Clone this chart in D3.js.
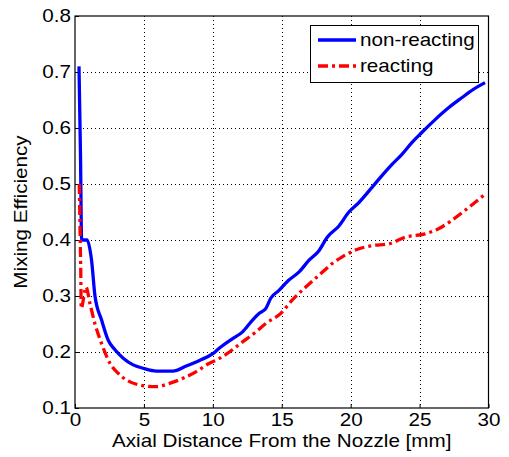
<!DOCTYPE html>
<html>
<head>
<meta charset="utf-8">
<script src="https://cdn.jsdelivr.net/npm/d3@7"></script>
<style>
  body { margin: 0; background: #fff; }
  text { font-family: "Liberation Sans", Arial, sans-serif; fill: #000; }
</style>
</head>
<body>
<div id="chart"></div>
<script>
const w = 509;
const h = 457;
const margin = {left: 75, right: 20, top: 16, bottom: 49};
const sx = 1.18; // glyphs in the reference are a bit wider than Arial

// data
const xTicks = [0, 5, 10, 15, 20, 25, 30];
const yTicks = [0.1, 0.2, 0.3, 0.4, 0.5, 0.6, 0.7, 0.8];
const seriesNames = ["non-reacting", "reacting"];

const xNonReacting = [0.29, 0.4, 0.48, 0.87, 1.2, 1.45, 1.93, 2.41, 2.9, 3.5, 4.22, 4.94, 5.9, 7.1, 8.07, 9.03, 10, 10.48, 11.44, 12.16, 12.88, 13.37, 13.85, 14.2, 14.8, 15.5, 16.26, 16.98, 17.7, 18.3, 19.15, 19.87, 20.6, 21.55, 22.27, 23, 23.72, 24.44, 25.16, 26.13, 27.1, 28.06, 28.9, 29.75];
const yNonReacting = [0.71, 0.55, 0.40, 0.40, 0.364, 0.30, 0.257, 0.221, 0.204, 0.189, 0.177, 0.171, 0.166, 0.166, 0.175, 0.185, 0.197, 0.207, 0.224, 0.236, 0.257, 0.269, 0.278, 0.296, 0.31, 0.328, 0.343, 0.364, 0.381, 0.405, 0.425, 0.45, 0.467, 0.494, 0.515, 0.535, 0.553, 0.574, 0.592, 0.615, 0.636, 0.654, 0.669, 0.681];

const xReacting = [0.31, 0.38, 0.42, 0.45, 0.8, 1.09, 1.45, 1.93, 2.53, 3.13, 3.74, 4.7, 5.9, 6.86, 7.83, 8.8, 9.75, 10.3, 11.2, 12.16, 13.13, 13.85, 14.93, 15.77, 16.74, 17.7, 18.66, 19.39, 20.35, 21.55, 22.76, 23.96, 25.4, 26.37, 27.33, 28.3, 29.75];
const yReacting = [0.50, 0.40, 0.34, 0.278, 0.316, 0.286, 0.25, 0.215, 0.18, 0.162, 0.15, 0.141, 0.138, 0.144, 0.153, 0.165, 0.18, 0.186, 0.2, 0.218, 0.236, 0.251, 0.269, 0.293, 0.316, 0.337, 0.358, 0.37, 0.382, 0.39, 0.393, 0.405, 0.411, 0.42, 0.435, 0.453, 0.482];

const colors = ["#0000ff", "#ff0000"];
const dashes = [null, "10,4,3,4"];

const svg = d3.select("#chart").append("svg")
  .attr("width", w)
  .attr("height", h);

const x = d3.scaleLinear().domain([0, 30]).range([margin.left, w - margin.right - 0.5]);
const y = d3.scaleLinear().domain([0.1, 0.8]).range([h - margin.bottom, margin.top]);

//Grid
const grid = svg.append("g").attr("class", "grid")
  .attr("stroke", "#000").attr("stroke-width", 1).attr("stroke-dasharray", "1,3");
grid.selectAll(".vx").data(xTicks.slice(1, -1)).enter().append("line")
  .attr("x1", d => Math.round(x(d)) + 0.5).attr("x2", d => Math.round(x(d)) + 0.5)
  .attr("y1", y(0.8)).attr("y2", y(0.1));
grid.selectAll(".hy").data(yTicks.slice(1, -1)).enter().append("line")
  .attr("y1", d => Math.round(y(d)) + 0.5).attr("y2", d => Math.round(y(d)) + 0.5)
  .attr("x1", x(0)).attr("x2", x(30));

//Axes
const xAxis = d3.axisBottom(x).tickValues(xTicks).tickFormat(d3.format("d"))
  .tickSizeInner(-4).tickSizeOuter(0).tickPadding(6);
const yAxis = d3.axisLeft(y).tickValues(yTicks).tickFormat(d3.format(".1f"))
  .tickSizeInner(-4).tickSizeOuter(0).tickPadding(3.5);

const gx = svg.append("g").attr("transform", `translate(0,${y(0.1)})`).call(xAxis);
const gy = svg.append("g").attr("transform", `translate(${x(0)},0)`).call(yAxis);
[gx, gy].forEach(g => {
  g.select(".domain").remove();
  g.selectAll("text").attr("font-size", 17.5).attr("font-family", null)
    .attr("transform", `scale(${sx},1)`);
});

//Box
svg.append("rect")
  .attr("x", x(0)).attr("y", y(0.8))
  .attr("width", x(30) - x(0)).attr("height", y(0.1) - y(0.8))
  .attr("fill", "none").attr("stroke", "#000").attr("stroke-width", 1.2);

//Lines
svg.append("clipPath").attr("id", "clip").append("rect")
  .attr("x", x(0)).attr("y", y(0.8)).attr("width", x(30) - x(0)).attr("height", y(0.1) - y(0.8));

const series = [
  d3.zip(xNonReacting, yNonReacting),
  d3.zip(xReacting, yReacting)
];
const line = d3.line().x(d => x(d[0])).y(d => y(d[1])).curve(d3.curveMonotoneX);

svg.append("g").attr("clip-path", "url(#clip)")
  .selectAll("path").data(series).enter().append("path")
  .attr("d", line)
  .attr("fill", "none")
  .attr("stroke", (d, i) => colors[i])
  .attr("stroke-width", 3.3)
  .attr("stroke-linejoin", "round")
  .attr("stroke-dasharray", (d, i) => dashes[i]);

//Legend
const legend = svg.append("g").attr("id", "legend");
legend.append("rect")
  .attr("x", 310.5).attr("y", 25.5).attr("width", 168).attr("height", 57)
  .attr("fill", "#fff").attr("stroke", "#000").attr("stroke-width", 1);
const items = legend.selectAll(".item").data(seriesNames).enter().append("g")
  .attr("transform", (d, i) => `translate(0,${40 + i * 26})`);
items.append("line")
  .attr("x1", 318).attr("x2", 356).attr("y1", 0).attr("y2", 0)
  .attr("stroke", (d, i) => colors[i]).attr("stroke-width", 3.3)
  .attr("stroke-dasharray", (d, i) => dashes[i]);
items.append("text")
  .attr("transform", `translate(360,0) scale(${sx},1)`)
  .attr("dy", "0.35em")
  .attr("font-size", 17.5)
  .text(d => d);

//Axis labels
svg.append("text")
  .attr("transform", `translate(${(x(0) + x(30)) / 2},441) scale(${sx},1)`)
  .attr("text-anchor", "middle").attr("dy", "0.35em")
  .attr("font-size", 17.5)
  .text("Axial Distance From the Nozzle [mm]");
svg.append("text")
  .attr("transform", `translate(21,${(y(0.1) + y(0.8)) / 2}) rotate(-90) scale(${sx},1)`)
  .attr("text-anchor", "middle").attr("dy", "0.35em")
  .attr("font-size", 17.5)
  .text("Mixing Efficiency");
</script>
</body>
</html>
